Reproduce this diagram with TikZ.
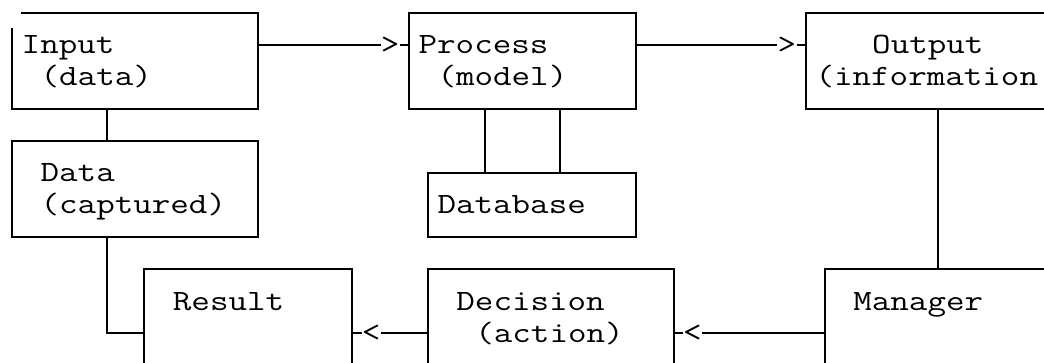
\documentclass[tikz,border=0pt]{standalone}
\usepackage{fontspec}
\newfontfamily\asc[FakeStretch=1.222]{Latin Modern Mono}
\usetikzlibrary{fit,calc}
\begin{document}
\begin{tikzpicture}[x=0.75pt,y=-0.75pt,
  declare function={gx(\c)=12+18.9*\c; gy(\r)=13+32*\r;},
  ln/.style={line width=1.5pt},
  box/.style={draw, line width=1.5pt, inner sep=0pt, rectangle},
  hidden/.style={inner sep=0pt, rectangle},
  lbl/.style={font=\asc\fontsize{22.1pt}{26pt}\selectfont, inner sep=0pt, anchor=base west},
  arrowch/.style={font=\asc\fontsize{22.1pt}{26pt}\selectfont, inner sep=0pt, anchor=west}]
\useasboundingbox (0,0) rectangle (1044,363);
\clip (0,0) rectangle (1044,363);

% boxes
\node[hidden, fit={({gx(0)},{gy(0)}) ({gx(13)},{gy(3)})}] (in) {};
\draw[ln] ($(in.north west)+(9.45,0)$) -- (in.north east) -- (in.south east) -- (in.south west) -- ($(in.north west)+(0,15)$);
\node[box, fit={({gx(21)},{gy(0)}) ({gx(33)},{gy(3)})}] (proc) {};
\node[box, fit={({gx(42)},{gy(0)}) ({gx(56)},{gy(3)})}] (out) {};
\node[box, fit={({gx(0)},{gy(4)}) ({gx(13)},{gy(7)})}] (data) {};
\node[box, fit={({gx(22)},{gy(5)}) ({gx(33)},{gy(7)})}] (db) {};
\node[box, fit={({gx(7)},{gy(8)}) ({gx(18)},{gy(11)})}] (res) {};
\node[box, fit={({gx(22)},{gy(8)}) ({gx(35)},{gy(11)})}] (dec) {};
\node[box, fit={({gx(43)},{gy(8)}) ({gx(56)},{gy(11)})}] (man) {};

% labels
\node[lbl] (tin1) at ({gx(1)-9.45},{gy(1)+9}) {Input};
\node[lbl] (tin2) at ({gx(2)-9.45},{gy(2)+9}) {(data)};
\node[lbl] (tpr1) at ({gx(22)-9.45},{gy(1)+9}) {Process};
\node[lbl] (tpr2) at ({gx(23)-9.45},{gy(2)+9}) {(model)};
\node[lbl] (tou1) at ({gx(46)-9.45},{gy(1)+9}) {Output};
\node[lbl] (tou2) at ({gx(43)-9.45},{gy(2)+9}) {(information};
\node[lbl] (tda1) at ({gx(2)-9.45},{gy(5)+9}) {Data};
\node[lbl] (tda2) at ({gx(2)-9.45},{gy(6)+9}) {(captured)};
\node[lbl] (tdb) at ({gx(23)-9.45},{gy(6)+9}) {Database};
\node[lbl] (tre) at ({gx(9)-9.45},{gy(9)+9}) {Result};
\node[lbl] (tde1) at ({gx(24)-9.45},{gy(9)+9}) {Decision};
\node[lbl] (tde2) at ({gx(25)-9.45},{gy(10)+9}) {(action)};
\node[lbl] (tma) at ({gx(45)-9.45},{gy(9)+9}) {Manager};

% arrow characters
\node[arrowch] (g1) at ({gx(20)-9.45},{gy(1)}) {>};
\node[arrowch] (g2) at ({gx(41)-9.45},{gy(1)}) {>};
\node[arrowch] (g3) at ({gx(19)-9.45},{gy(10)}) {<};
\node[arrowch] (g4) at ({gx(36)-9.45},{gy(10)}) {<};

% connectors
\draw[ln] (in.east |- g1) -- (g1.west);
\draw[ln] (g1.east) -- (proc.west |- g1);
\draw[ln] (proc.east |- g2) -- (g2.west);
\draw[ln] (g2.east) -- (out.west |- g2);
\draw[ln] (man.west |- g4) -- (g4.east);
\draw[ln] (g4.west) -- (dec.east |- g4);
\draw[ln] (dec.west |- g3) -- (g3.east);
\draw[ln] (g3.west) -- (res.east |- g3);
\draw[ln] ({gx(5)},{gy(3)}) coordinate (c1) (in.south -| c1) -- (data.north -| c1);
\draw[ln] ({gx(25)},0) coordinate (c2) (proc.south -| c2) -- (db.north -| c2);
\draw[ln] ({gx(29)},0) coordinate (c3) (proc.south -| c3) -- (db.north -| c3);
\draw[ln] ({gx(49)},0) coordinate (c4) (out.south -| c4) -- (man.north -| c4);
\draw[ln] ({gx(5)},0) coordinate (c5) (data.south -| c5) |- (res.west |- g3);
\end{tikzpicture}
\end{document}
